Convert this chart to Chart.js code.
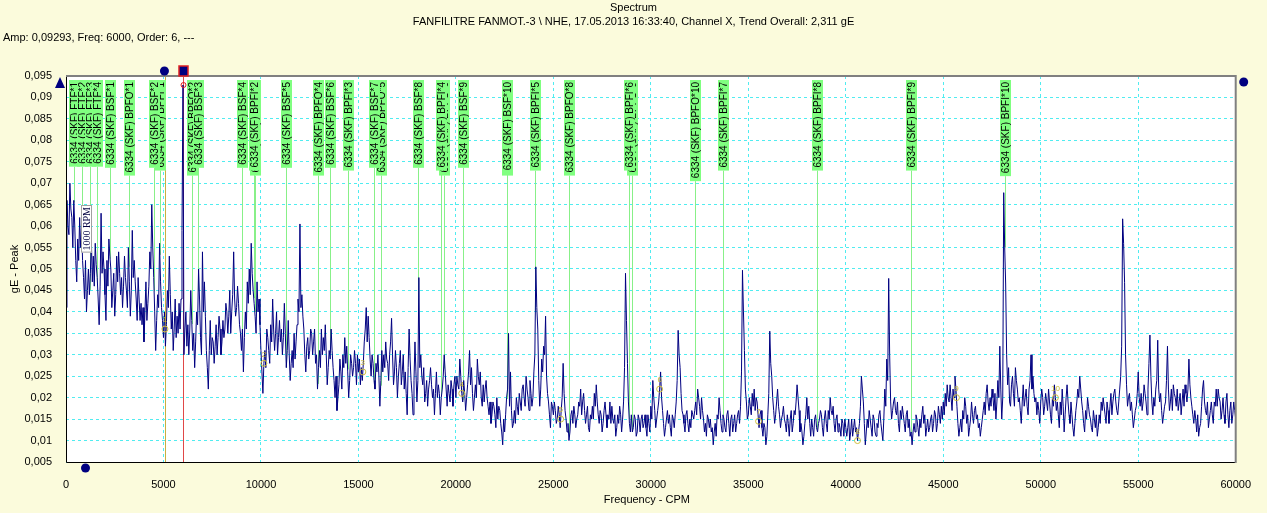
<!DOCTYPE html>
<html lang="en">
<head>
    <meta charset="UTF-8">
    <title>Spectrum</title>
    <style>
        body { margin: 0; background: #fbfbdc; }
        canvas { display: block; }
    </style>
    <script src="https://cdn.jsdelivr.net/npm/chart.js"></script>
</head>
<body>
    <canvas id="spectrum" width="1267" height="513"></canvas>

    <script>
        // spectrum lines, one every 50 CPM from 0 to 60000 (one row = 1000 CPM)
        const cpmPerLine = 50;
        const amplitude = [
            0.041, 0.066, 0.060, 0.058, 0.070, 0.064, 0.062, 0.055, 0.066, 0.060, 0.052, 0.047, 0.057, 0.052, 0.062, 0.055, 0.060, 0.052, 0.048, 0.043, 0.052,
            0.040, 0.045, 0.050, 0.044, 0.049, 0.057, 0.047, 0.053, 0.046, 0.056, 0.051, 0.048, 0.043, 0.037, 0.046, 0.063, 0.049, 0.054, 0.050, 0.044,
            0.038, 0.052, 0.046, 0.057, 0.053, 0.050, 0.041, 0.045, 0.049, 0.039, 0.044, 0.053, 0.047, 0.054, 0.049, 0.044, 0.048, 0.041, 0.046, 0.053,
            0.048, 0.045, 0.041, 0.055, 0.047, 0.039, 0.045, 0.059, 0.048, 0.052, 0.047, 0.043, 0.038, 0.048, 0.043, 0.038, 0.042, 0.037, 0.041, 0.033,
            0.040, 0.047, 0.038, 0.042, 0.046, 0.054, 0.050, 0.065, 0.055, 0.048, 0.040, 0.031, 0.038, 0.044, 0.041, 0.056, 0.047, 0.041, 0.038, 0.034,
            0.040, 0.032, 0.037, 0.045, 0.041, 0.053, 0.044, 0.036, 0.040, 0.031, 0.036, 0.043, 0.034, 0.039, 0.035, 0.042, 0.036, 0.043, 0.059, 0.0929,
            0.030, 0.036, 0.040, 0.032, 0.037, 0.030, 0.036, 0.045, 0.038, 0.031, 0.035, 0.027, 0.033, 0.040, 0.037, 0.050, 0.043, 0.034, 0.030, 0.054,
            0.040, 0.047, 0.039, 0.031, 0.027, 0.022, 0.031, 0.038, 0.030, 0.034, 0.033, 0.028, 0.032, 0.037, 0.030, 0.034, 0.039, 0.036, 0.030, 0.033,
            0.038, 0.034, 0.036, 0.042, 0.040, 0.035, 0.039, 0.045, 0.035, 0.040, 0.044, 0.054, 0.043, 0.039, 0.041, 0.046, 0.042, 0.037, 0.035, 0.031,
            0.036, 0.026, 0.034, 0.040, 0.036, 0.047, 0.042, 0.050, 0.044, 0.056, 0.049, 0.045, 0.042, 0.039, 0.035, 0.047, 0.040, 0.043, 0.037, 0.031,
            0.026, 0.021, 0.028, 0.031, 0.027, 0.036, 0.034, 0.031, 0.028, 0.037, 0.033, 0.043, 0.036, 0.031, 0.035, 0.040, 0.030, 0.034, 0.038, 0.033,
            0.036, 0.030, 0.034, 0.042, 0.035, 0.027, 0.031, 0.038, 0.030, 0.024, 0.028, 0.031, 0.027, 0.035, 0.029, 0.033, 0.037, 0.043, 0.040, 0.0605,
            0.041, 0.044, 0.039, 0.036, 0.030, 0.026, 0.032, 0.034, 0.029, 0.031, 0.036, 0.035, 0.030, 0.033, 0.036, 0.028, 0.030, 0.022, 0.027, 0.031,
            0.027, 0.036, 0.030, 0.034, 0.031, 0.037, 0.030, 0.023, 0.027, 0.031, 0.029, 0.036, 0.031, 0.027, 0.024, 0.020, 0.025, 0.017, 0.020, 0.023,
            0.029, 0.026, 0.022, 0.030, 0.027, 0.034, 0.028, 0.032, 0.026, 0.020, 0.024, 0.030, 0.028, 0.025, 0.027, 0.031, 0.028, 0.023, 0.030, 0.026,
            0.029, 0.023, 0.027, 0.024, 0.028, 0.033, 0.036, 0.041, 0.033, 0.039, 0.034, 0.029, 0.025, 0.030, 0.028, 0.024, 0.022, 0.028, 0.026, 0.030,
            0.025, 0.018, 0.024, 0.031, 0.026, 0.030, 0.027, 0.033, 0.029, 0.028, 0.024, 0.030, 0.033, 0.0385, 0.030, 0.023, 0.026, 0.031, 0.027, 0.020,
            0.025, 0.028, 0.031, 0.023, 0.026, 0.030, 0.022, 0.026, 0.021, 0.016, 0.027, 0.036, 0.029, 0.024, 0.021, 0.016, 0.024, 0.033, 0.026, 0.019,
            0.024, 0.048, 0.027, 0.030, 0.025, 0.023, 0.027, 0.019, 0.021, 0.024, 0.018, 0.022, 0.024, 0.027, 0.023, 0.020, 0.022, 0.016, 0.021, 0.026,
            0.020, 0.023, 0.021, 0.016, 0.020, 0.022, 0.025, 0.030, 0.026, 0.022, 0.018, 0.023, 0.021, 0.019, 0.024, 0.022, 0.018, 0.023, 0.025, 0.020,
            0.025, 0.023, 0.022, 0.029, 0.025, 0.021, 0.019, 0.024, 0.021, 0.017, 0.020, 0.023, 0.026, 0.031, 0.023, 0.027, 0.021, 0.017, 0.020, 0.023,
            0.020, 0.029, 0.025, 0.023, 0.026, 0.020, 0.018, 0.023, 0.019, 0.022, 0.024, 0.020, 0.018, 0.016, 0.019, 0.014, 0.016, 0.019, 0.018, 0.016,
            0.013, 0.020, 0.015, 0.018, 0.017, 0.014, 0.012, 0.009, 0.015, 0.012, 0.016, 0.020, 0.022, 0.035, 0.018, 0.026, 0.017, 0.013, 0.014, 0.017,
            0.014, 0.020, 0.018, 0.016, 0.021, 0.019, 0.017, 0.022, 0.023, 0.020, 0.018, 0.025, 0.022, 0.020, 0.017, 0.024, 0.021, 0.018, 0.020, 0.026,
            0.030, 0.0505, 0.041, 0.036, 0.024, 0.018, 0.022, 0.029, 0.026, 0.032, 0.030, 0.039, 0.025, 0.021, 0.019, 0.016, 0.013, 0.019, 0.018, 0.016,
            0.019, 0.017, 0.014, 0.015, 0.018, 0.016, 0.013, 0.017, 0.020, 0.028, 0.021, 0.017, 0.015, 0.012, 0.014, 0.010, 0.012, 0.016, 0.017, 0.014,
            0.018, 0.016, 0.013, 0.015, 0.016, 0.019, 0.018, 0.022, 0.016, 0.019, 0.021, 0.017, 0.014, 0.016, 0.018, 0.013, 0.012, 0.016, 0.015, 0.018,
            0.015, 0.021, 0.018, 0.023, 0.019, 0.016, 0.014, 0.017, 0.016, 0.012, 0.014, 0.017, 0.019, 0.016, 0.013, 0.016, 0.015, 0.019, 0.014, 0.018,
            0.015, 0.014, 0.016, 0.011, 0.013, 0.016, 0.014, 0.018, 0.016, 0.012, 0.015, 0.019, 0.027, 0.049, 0.038, 0.028, 0.019, 0.014, 0.012, 0.016,
            0.012, 0.013, 0.016, 0.015, 0.011, 0.012, 0.016, 0.015, 0.012, 0.015, 0.016, 0.013, 0.014, 0.016, 0.013, 0.011, 0.016, 0.014, 0.012, 0.018,
            0.015, 0.024, 0.020, 0.017, 0.013, 0.015, 0.017, 0.019, 0.022, 0.026, 0.020, 0.017, 0.014, 0.011, 0.013, 0.015, 0.017, 0.014, 0.016, 0.013,
            0.011, 0.016, 0.015, 0.013, 0.016, 0.019, 0.024, 0.0357, 0.030, 0.027, 0.021, 0.017, 0.016, 0.014, 0.012, 0.016, 0.017, 0.014, 0.012, 0.015,
            0.013, 0.017, 0.016, 0.015, 0.017, 0.019, 0.016, 0.022, 0.020, 0.018, 0.015, 0.020, 0.017, 0.015, 0.012, 0.014, 0.011, 0.016, 0.015, 0.013,
            0.015, 0.012, 0.013, 0.009, 0.012, 0.014, 0.011, 0.016, 0.015, 0.020, 0.017, 0.014, 0.012, 0.016, 0.015, 0.013, 0.012, 0.016, 0.017, 0.014,
            0.011, 0.015, 0.016, 0.012, 0.014, 0.016, 0.012, 0.014, 0.016, 0.017, 0.014, 0.018, 0.026, 0.0497, 0.040, 0.031, 0.022, 0.019, 0.015, 0.016,
            0.020, 0.018, 0.016, 0.021, 0.018, 0.022, 0.017, 0.020, 0.019, 0.016, 0.013, 0.016, 0.017, 0.013, 0.011, 0.014, 0.013, 0.009, 0.011, 0.016,
            0.021, 0.0355, 0.028, 0.025, 0.020, 0.017, 0.014, 0.016, 0.019, 0.022, 0.018, 0.016, 0.013, 0.015, 0.016, 0.018, 0.015, 0.014, 0.012, 0.016,
            0.014, 0.011, 0.015, 0.017, 0.012, 0.014, 0.017, 0.016, 0.019, 0.023, 0.020, 0.017, 0.012, 0.014, 0.012, 0.009, 0.011, 0.014, 0.016, 0.020,
            0.015, 0.018, 0.014, 0.011, 0.015, 0.013, 0.011, 0.015, 0.016, 0.013, 0.012, 0.014, 0.015, 0.017, 0.016, 0.013, 0.011, 0.015, 0.017, 0.014,
            0.012, 0.017, 0.015, 0.020, 0.017, 0.016, 0.018, 0.014, 0.012, 0.015, 0.016, 0.012, 0.014, 0.013, 0.011, 0.015, 0.014, 0.011, 0.015, 0.013,
            0.011, 0.013, 0.015, 0.010, 0.012, 0.015, 0.011, 0.013, 0.015, 0.012, 0.013, 0.010, 0.012, 0.014, 0.018, 0.025, 0.022, 0.019, 0.014, 0.009,
            0.012, 0.015, 0.013, 0.017, 0.015, 0.013, 0.011, 0.016, 0.015, 0.012, 0.011, 0.014, 0.013, 0.016, 0.017, 0.014, 0.012, 0.010, 0.015, 0.022,
            0.018, 0.029, 0.024, 0.0478, 0.030, 0.019, 0.015, 0.017, 0.019, 0.020, 0.017, 0.016, 0.019, 0.014, 0.012, 0.017, 0.015, 0.018, 0.016, 0.014,
            0.012, 0.016, 0.017, 0.013, 0.015, 0.011, 0.012, 0.009, 0.012, 0.014, 0.012, 0.016, 0.015, 0.013, 0.011, 0.015, 0.013, 0.016, 0.018, 0.014,
            0.016, 0.011, 0.013, 0.015, 0.012, 0.013, 0.015, 0.016, 0.012, 0.014, 0.017, 0.016, 0.012, 0.014, 0.018, 0.016, 0.014, 0.018, 0.015, 0.019,
            0.016, 0.021, 0.018, 0.023, 0.020, 0.019, 0.023, 0.020, 0.017, 0.022, 0.020, 0.025, 0.022, 0.018, 0.014, 0.011, 0.013, 0.015, 0.012, 0.017,
            0.015, 0.020, 0.018, 0.014, 0.016, 0.011, 0.013, 0.015, 0.019, 0.016, 0.014, 0.017, 0.018, 0.015, 0.016, 0.013, 0.014, 0.011, 0.013, 0.015,
            0.017, 0.019, 0.016, 0.021, 0.023, 0.019, 0.017, 0.020, 0.018, 0.022, 0.020, 0.017, 0.021, 0.015, 0.019, 0.024, 0.020, 0.032, 0.022, 0.015,
            0.020, 0.0678, 0.055, 0.0465, 0.030, 0.023, 0.027, 0.019, 0.018, 0.023, 0.025, 0.021, 0.018, 0.027, 0.024, 0.022, 0.019, 0.020, 0.017, 0.014,
            0.019, 0.023, 0.018, 0.020, 0.022, 0.018, 0.016, 0.022, 0.024, 0.030, 0.022, 0.025, 0.021, 0.019, 0.020, 0.016, 0.019, 0.017, 0.014, 0.019,
            0.022, 0.020, 0.016, 0.018, 0.021, 0.019, 0.017, 0.022, 0.019, 0.016, 0.014, 0.020, 0.018, 0.023, 0.020, 0.017, 0.019, 0.016, 0.013, 0.019,
            0.016, 0.022, 0.018, 0.012, 0.016, 0.020, 0.023, 0.019, 0.016, 0.014, 0.019, 0.016, 0.013, 0.011, 0.014, 0.017, 0.019, 0.022, 0.020, 0.025,
            0.022, 0.019, 0.017, 0.014, 0.012, 0.017, 0.015, 0.020, 0.018, 0.016, 0.015, 0.013, 0.012, 0.017, 0.015, 0.013, 0.016, 0.011, 0.013, 0.016,
            0.014, 0.019, 0.017, 0.020, 0.018, 0.016, 0.014, 0.019, 0.017, 0.014, 0.018, 0.021, 0.016, 0.019, 0.021, 0.022, 0.019, 0.017, 0.016, 0.019,
            0.022, 0.025, 0.032, 0.0617, 0.056, 0.0468, 0.030, 0.023, 0.018, 0.020, 0.021, 0.017, 0.019, 0.016, 0.013, 0.015, 0.017, 0.018, 0.021, 0.026,
            0.020, 0.018, 0.021, 0.017, 0.019, 0.023, 0.021, 0.019, 0.016, 0.022, 0.028, 0.0346, 0.025, 0.019, 0.016, 0.020, 0.018, 0.022, 0.024, 0.0334,
            0.022, 0.019, 0.021, 0.017, 0.014, 0.016, 0.018, 0.019, 0.024, 0.032, 0.022, 0.017, 0.019, 0.022, 0.017, 0.023, 0.021, 0.020, 0.018, 0.022,
            0.017, 0.019, 0.021, 0.016, 0.019, 0.022, 0.018, 0.023, 0.021, 0.019, 0.022, 0.029, 0.023, 0.020, 0.018, 0.016, 0.014, 0.017, 0.015, 0.012,
            0.016, 0.011, 0.013, 0.014, 0.018, 0.022, 0.024, 0.019, 0.017, 0.016, 0.019, 0.013, 0.015, 0.017, 0.019, 0.016, 0.014, 0.019, 0.018, 0.022,
            0.018, 0.022, 0.020, 0.019, 0.015, 0.017, 0.020, 0.016, 0.014, 0.019, 0.021, 0.016, 0.013, 0.017, 0.019, 0.014, 0.016, 0.019, 0.017, 0.015
        ];

        const xTickValues = [0, 5000, 10000, 15000, 20000, 25000, 30000, 35000, 40000, 45000, 50000, 55000, 60000];
        const yTickValues = [0.005, 0.01, 0.015, 0.02, 0.025, 0.03, 0.035, 0.04, 0.045, 0.05,
                             0.055, 0.06, 0.065, 0.07, 0.075, 0.08, 0.085, 0.09, 0.095];

        // bearing fault frequency markers (drawn in this order, later ones on top)
        const faultLabels = [
            '6334 (SKF) FTF*1', '6334 (SKF) FTF*2', '6334 (SKF) FTF*3', '6334 (SKF) FTF*4',
            '6334 (SKF) BPFO*1', '6334 (SKF) BPFO*2', '6334 (SKF) BPFO*3', '6334 (SKF) BPFO*4', '6334 (SKF) BPFO*5',
            '6334 (SKF) BPFO*6', '6334 (SKF) BPFO*7', '6334 (SKF) BPFO*8', '6334 (SKF) BPFO*9', '6334 (SKF) BPFO*10',
            '6334 (SKF) BPFI*1', '6334 (SKF) BPFI*2', '6334 (SKF) BPFI*3', '6334 (SKF) BPFI*4', '6334 (SKF) BPFI*5',
            '6334 (SKF) BPFI*6', '6334 (SKF) BPFI*7', '6334 (SKF) BPFI*8', '6334 (SKF) BPFI*9', '6334 (SKF) BPFI*10',
            '6334 (SKF) BSF*1', '6334 (SKF) BSF*2', '6334 (SKF) BSF*3', '6334 (SKF) BSF*4', '6334 (SKF) BSF*5',
            '6334 (SKF) BSF*6', '6334 (SKF) BSF*7', '6334 (SKF) BSF*8', '6334 (SKF) BSF*9', '6334 (SKF) BSF*10'
        ];
        const faultFreqs = [
            404, 807, 1211, 1614,
            3228, 6456, 9684, 12912, 16140, 19368, 22596, 25824, 29052, 32280,
            4815, 9630, 14445, 19260, 24075, 28890, 33705, 38520, 43335, 48150,
            2260, 4520, 6780, 9040, 11300, 13560, 15820, 18080, 20340, 22600
        ];

        // harmonic cursor marks
        const harmonicFreqs = [5075, 10150, 15225, 20300, 25375, 30450, 35525, 40600, 45675, 50750];
        const harmonicNums = ['1', '2', '3', '4', '5', '6', '7', '8', '9', '10'];

        const refCursorFreq = 5075;
        const cursorFreq = 6000;
        const speedFreq = 1000;
        const speedText = '1000 RPM';

        const titleText = 'Spectrum';
        const subtitleText = 'FANFILITRE FANMOT.-3 \\ NHE, 17.05.2013 16:33:40, Channel X, Trend Overall: 2,311 gE';
        const cursorText = 'Amp: 0,09293, Freq: 6000, Order: 6, ---';
        const xTitle = 'Frequency - CPM';
        const yTitle = 'gE - Peak';

        const navy = '#000080';
        const labelFont = '10px Arial, "Liberation Sans", sans-serif';
        const textFont = '11px Arial, "Liberation Sans", sans-serif';

        function ampAt(f) {
            const p = f / cpmPerLine;
            const i = Math.floor(p);
            const a = amplitude[i];
            const b = amplitude[Math.min(i + 1, amplitude.length - 1)];
            return a + (b - a) * (p - i);
        }

        function dot(ctx, x, y, r) {
            ctx.beginPath();
            ctx.arc(x, y, r, 0, Math.PI * 2);
            ctx.fill();
        }

        const decor = {
            id: 'decor',
            beforeDraw(chart) {
                const { ctx, chartArea: a } = chart;
                ctx.save();
                ctx.fillStyle = '#fbfbdc';
                ctx.fillRect(0, 0, chart.width, chart.height);
                ctx.fillStyle = '#ffffff';
                ctx.fillRect(a.left, a.top, a.right - a.left, a.bottom - a.top);
                ctx.restore();
            },
            beforeDatasetsDraw(chart) {
                const { ctx, chartArea: a, scales: { x, y } } = chart;
                ctx.save();
                ctx.font = labelFont;
                ctx.lineWidth = 1;
                ctx.strokeStyle = '#88f088';
                faultFreqs.forEach((f, i) => {
                    const px = Math.round(x.getPixelForValue(f)) + 0.5;
                    const boxBottom = a.top + 4 + ctx.measureText(faultLabels[i]).width + 5;
                    const py = y.getPixelForValue(ampAt(f));
                    if (py > boxBottom) {
                        ctx.beginPath();
                        ctx.moveTo(px, boxBottom);
                        ctx.lineTo(px, py);
                        ctx.stroke();
                    }
                });

                // reference cursor and main cursor
                let px = Math.round(x.getPixelForValue(refCursorFreq)) + 0.5;
                ctx.strokeStyle = '#c8b040';
                ctx.beginPath();
                ctx.moveTo(px, a.top);
                ctx.lineTo(px, a.bottom);
                ctx.stroke();

                px = Math.round(x.getPixelForValue(cursorFreq)) + 0.5;
                ctx.strokeStyle = '#e04848';
                ctx.beginPath();
                ctx.moveTo(px, a.top);
                ctx.lineTo(px, a.bottom);
                ctx.stroke();
                ctx.restore();
            },
            afterDatasetsDraw(chart) {
                const { ctx, chartArea: a, scales: { x, y } } = chart;
                ctx.save();

                // fault label boxes
                ctx.font = labelFont;
                ctx.textBaseline = 'middle';
                ctx.textAlign = 'left';
                faultFreqs.forEach((f, i) => {
                    const px = Math.round(x.getPixelForValue(f));
                    const w = ctx.measureText(faultLabels[i]).width;
                    const top = a.top + 4;
                    ctx.fillStyle = '#80ff80';
                    ctx.fillRect(px - 5, top, 11, w + 5);
                    ctx.fillStyle = '#000000';
                    ctx.save();
                    ctx.translate(px + 1, top + 2 + w);
                    ctx.rotate(-Math.PI / 2);
                    ctx.fillText(faultLabels[i], 0, 0);
                    ctx.restore();
                });

                // harmonic cursor marks
                ctx.strokeStyle = '#d0c040';
                ctx.fillStyle = '#c8b830';
                ctx.font = '8px Arial, "Liberation Sans", sans-serif';
                ctx.textAlign = 'center';
                harmonicFreqs.forEach((f, i) => {
                    const px = x.getPixelForValue(f);
                    const py = y.getPixelForValue(ampAt(f));
                    ctx.beginPath();
                    ctx.arc(px, py, 3, 0, Math.PI * 2);
                    ctx.stroke();
                    ctx.fillText(harmonicNums[i], px, py - 9);
                });

                // running speed label
                const sx = Math.round(x.getPixelForValue(speedFreq)) + 1;
                ctx.font = '10px "Liberation Serif", "DejaVu Serif", serif';
                const sw = ctx.measureText(speedText).width;
                ctx.fillStyle = '#ffffff';
                ctx.strokeStyle = '#a0a0a0';
                ctx.fillRect(sx - 5, 205, 11, sw + 4);
                ctx.strokeRect(sx - 5 + 0.5, 205.5, 10, sw + 3);
                ctx.fillStyle = '#000040';
                ctx.textAlign = 'left';
                ctx.save();
                ctx.translate(sx + 1, 207 + sw);
                ctx.rotate(-Math.PI / 2);
                ctx.fillText(speedText, 0, 0);
                ctx.restore();

                // plot frame
                ctx.lineWidth = 1;
                ctx.strokeStyle = '#000000';
                ctx.beginPath();
                ctx.moveTo(a.left + 0.5, a.top);
                ctx.lineTo(a.left + 0.5, a.bottom + 0.5);
                ctx.lineTo(a.right, a.bottom + 0.5);
                ctx.stroke();
                ctx.lineWidth = 2;
                ctx.strokeStyle = '#808080';
                ctx.beginPath();
                ctx.moveTo(a.left, a.top);
                ctx.lineTo(a.right, a.top);
                ctx.lineTo(a.right, a.bottom + 1);
                ctx.stroke();

                // cursor handles
                ctx.fillStyle = navy;
                ctx.beginPath();
                ctx.moveTo(a.left - 11, a.top + 12);
                ctx.lineTo(a.left - 1, a.top + 12);
                ctx.lineTo(a.left - 6, a.top + 1);
                ctx.closePath();
                ctx.fill();
                dot(ctx, x.getPixelForValue(refCursorFreq) - 0.5, a.top - 5, 4.5);
                dot(ctx, a.right + 8, a.top + 6, 4.5);
                dot(ctx, x.getPixelForValue(speedFreq), a.bottom + 6, 4.5);
                const cx = Math.round(x.getPixelForValue(cursorFreq));
                ctx.fillRect(cx - 4, a.top - 10, 9, 10);
                ctx.strokeStyle = '#e02020';
                ctx.lineWidth = 1.5;
                ctx.strokeRect(cx - 4, a.top - 10, 9, 10);
                ctx.lineWidth = 1;
                ctx.beginPath();
                ctx.arc(cx + 0.5, a.top + 9, 2.5, 0, Math.PI * 2);
                ctx.stroke();

                // titles
                ctx.fillStyle = '#000000';
                ctx.font = textFont;
                ctx.textBaseline = 'middle';
                ctx.textAlign = 'center';
                ctx.fillText(titleText, chart.width / 2, 8);
                ctx.fillText(subtitleText, chart.width / 2, 22);
                ctx.fillText(xTitle, (a.left + a.right) / 2 - 4, 500);
                ctx.textAlign = 'left';
                ctx.fillText(cursorText, 3, 38);
                ctx.save();
                ctx.translate(15, (a.top + a.bottom) / 2);
                ctx.rotate(-Math.PI / 2);
                ctx.textAlign = 'center';
                ctx.fillText(yTitle, 0, 0);
                ctx.restore();

                ctx.restore();
            }
        };

        Chart.defaults.font.family = 'Arial, "Liberation Sans", sans-serif';
        Chart.defaults.font.size = 11;
        Chart.defaults.color = '#000000';

        new Chart(document.getElementById('spectrum'), {
            type: 'line',
            data: {
                datasets: [{
                    data: amplitude.map((v, i) => ({ x: i * cpmPerLine, y: v })),
                    borderColor: navy,
                    borderWidth: 1,
                    pointRadius: 0,
                    tension: 0
                }]
            },
            options: {
                responsive: false,
                animation: false,
                layout: { padding: { top: 76, right: 27, left: 0, bottom: 0 } },
                plugins: { legend: { display: false }, tooltip: { enabled: false } },
                scales: {
                    x: {
                        type: 'linear',
                        min: 0,
                        max: 60000,
                        afterBuildTicks: s => { s.ticks = xTickValues.map(v => ({ value: v })); },
                        afterFit: s => { s.height = 51; },
                        ticks: { padding: 16, maxRotation: 0, callback: v => String(v) },
                        grid: { color: '#50ecf0', drawTicks: false },
                        border: { display: false, dash: [3, 3] }
                    },
                    y: {
                        min: 0.005,
                        max: 0.095,
                        afterBuildTicks: s => { s.ticks = yTickValues.map(v => ({ value: v })); },
                        afterFit: s => { s.width = 66; },
                        ticks: { padding: 14, callback: v => String(parseFloat(v.toFixed(3))).replace('.', ',') },
                        grid: { color: '#50ecf0', drawTicks: false },
                        border: { display: false, dash: [3, 3] }
                    }
                }
            },
            plugins: [decor]
        });
    </script>
</body>
</html>
